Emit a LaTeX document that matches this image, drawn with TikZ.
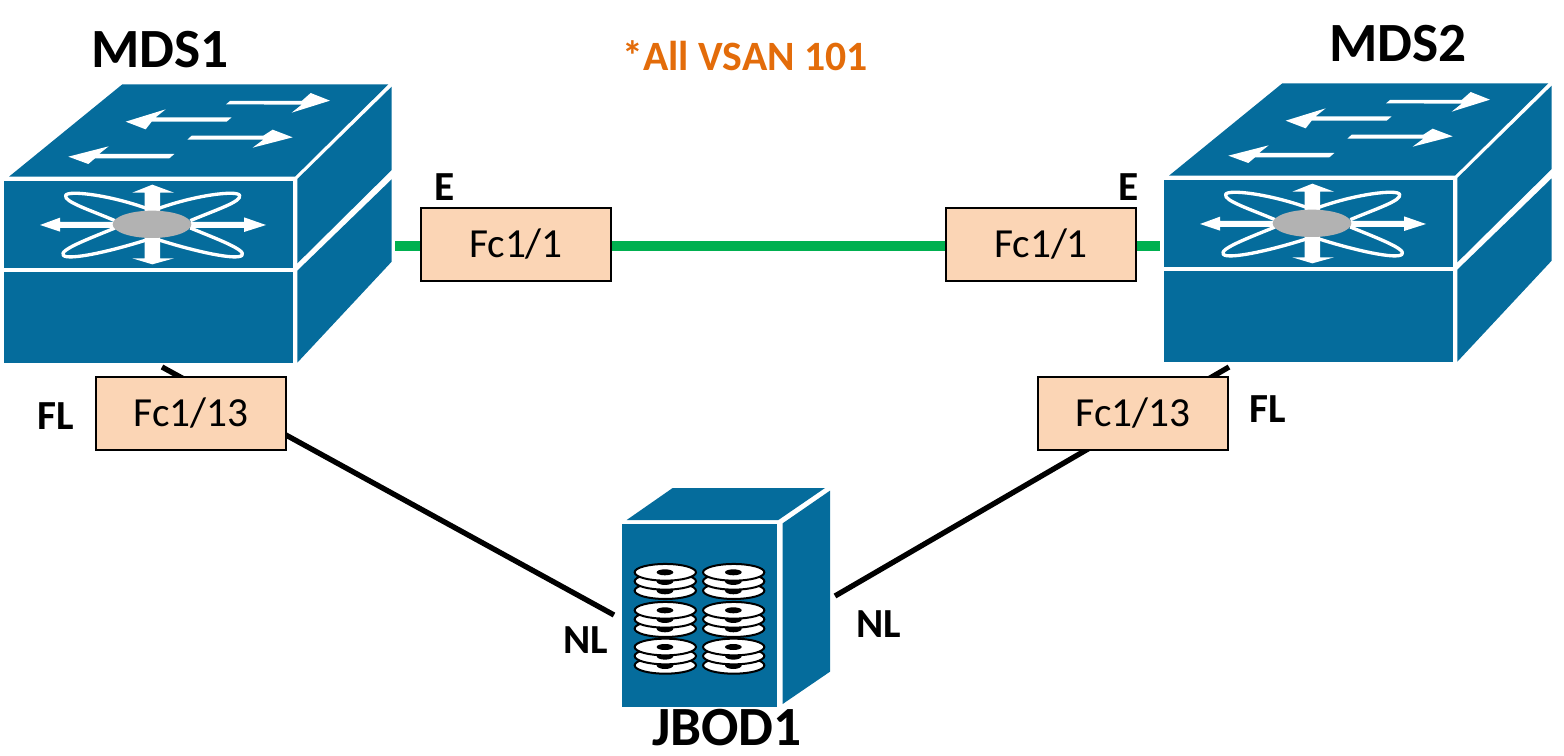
\documentclass[tikz,border=0pt]{standalone}
\usepackage{fontspec}
\usetikzlibrary{backgrounds}
\setmainfont{Carlito}
\definecolor{devblue}{HTML}{056C9C}
\definecolor{portfill}{HTML}{FBD5B5}
\definecolor{linkgreen}{HTML}{00B050}
\definecolor{notecolor}{HTML}{E36C0A}
\definecolor{hubgrey}{HTML}{B2B2B2}
\newcommand{\fpx}[1]{\fontsize{#1}{#1}\selectfont}
\tikzset{
  x=0.75pt, y=-0.75pt,
  panel/.style={fill=devblue, draw=none},
  whiteshape/.style={fill=white, draw=none},
  petal/.style={draw=white, line width=2.5pt, line join=round, fill=none},
  portbox/.style={draw=black, line width=0.9pt, fill=portfill, minimum width=142.5pt, minimum height=54.75pt, inner sep=0pt, font=\fpx{31}},
  title/.style={font=\bfseries\fpx{41.5}, inner sep=0pt},
  tag/.style={font=\bfseries\fpx{31}, inner sep=0pt},
  greenlink/.style={draw=linkgreen, line width=7.2pt},
  blacklink/.style={draw=black, line width=4pt},
  fabric/.pic={
    \begin{scope}[x=0.25pt, y=-0.25pt]
      % chassis faces
      \fill[panel] (367,43) -- (1165,43) -- (885,320) -- (27,320) -- cycle;
      \fill[panel] (12,332) rectangle (880,595);
      \fill[panel] (12,606) rectangle (880,878);
      \fill[panel] (892,327) -- (1175,50) -- (1175,300) -- (892,580) -- cycle;
      \fill[panel] (892,602) -- (1175,328) -- (1175,575) -- (892,878) -- cycle;
      % traffic arrows on the lid
      \fill[whiteshape] (678,103) -- (690,93) -- (905,93) -- (932,69) -- (990,92) -- (875,128) -- (905,104) -- cycle;
      \fill[whiteshape] (377,155) -- (497,118) -- (467,142) -- (695,142) -- (680,155) -- (455,155) -- (437,178) -- cycle;
      \fill[whiteshape] (562,209) -- (575,197) -- (790,197) -- (818,179) -- (878,202) -- (758,233) -- (790,209) -- cycle;
      \fill[whiteshape] (205,260) -- (326,229) -- (297,252) -- (523,252) -- (508,265) -- (285,265) -- (265,282) -- cycle;
      % crossbar petals
      \draw[petal] (345,452) .. controls (270,420) and (190,395) .. (197,376) .. controls (205,360) and (330,375) .. (445,417);
      \draw[petal] (571,452) .. controls (646,420) and (726,395) .. (719,376) .. controls (711,360) and (586,375) .. (471,417);
      \draw[petal] (345,474) .. controls (270,505) and (175,540) .. (190,556) .. controls (205,572) and (330,545) .. (445,508);
      \draw[petal] (571,474) .. controls (646,505) and (741,540) .. (726,556) .. controls (711,572) and (586,545) .. (471,508);
      % crossbar arrows
      \fill[whiteshape] (457,344) -- (522,368) -- (480,368) -- (480,565) -- (522,565) -- (457,583) -- (397,565) -- (434,565) -- (434,368) -- (397,368) -- cycle;
      \fill[whiteshape] (120,465) -- (180,443) -- (180,456) -- (732,456) -- (732,442) -- (798,465) -- (732,486) -- (732,474) -- (180,474) -- (180,485) -- cycle;
      \fill[hubgrey] (456,463) ellipse [x radius=118, y radius=41];
    \end{scope}
  },
  platter/.pic={
    \begin{scope}[x=0.25pt, y=-0.25pt]
      \foreach \yo/\hy in {55/11,27/11,0/9}{
        \fill[white, draw=black, line width=1.5pt] (0,\yo) ellipse [x radius=92, y radius=25];
        \fill[black] (-1,\yo) ellipse [x radius=25, y radius=\hy];
      }
    \end{scope}
  }
}
\begin{document}
\begin{tikzpicture}
  \useasboundingbox (0,0) rectangle (1564,756);

  % switches
  \pic at (0,70) {fabric};
  \pic at (1160,69) {fabric};

  % link end points on the chassis and the enclosure
  \coordinate (swAe) at (395,245.8);
  \coordinate (swBw) at (1160,245.8);
  \coordinate (swAs) at (162,367);
  \coordinate (swBs) at (1229,367);
  \coordinate (jbodW) at (614,615);
  \coordinate (jbodE) at (835,596);

  % ports
  \node[portbox] (p1) at (516,244.5) {Fc1/1};
  \node[portbox] (p2) at (1041,244.5) {Fc1/1};
  \node[portbox] (p3) at (191,413.5) {Fc1/13};
  \node[portbox] (p4) at (1133,413.5) {Fc1/13};

  % links run behind the port boxes
  \begin{pgfonlayer}{background}
    \draw[greenlink] (swAe) -- (swBw);
    \draw[blacklink] (swAs) -- (jbodW);
    \draw[blacklink] (swBs) -- (jbodE);
  \end{pgfonlayer}

  % disk enclosure
  \begin{scope}[shift={(600,480)}, x=0.25pt, y=-0.25pt]
    \fill[panel] (80,120) -- (218,24) -- (675,24) -- (535,120) -- cycle;
    \fill[panel] (66,132) rectangle (531,680);
    \fill[panel] (548,130) -- (690,32) -- (690,575) -- (548,672) -- cycle;
  \end{scope}
  \foreach \cx in {665.3,733.7}
    \foreach \cy in {572.3,610.3,647}
      \pic at (\cx,\cy) {platter};

  % labels
  \node[title] (lA) at (160,50) {MDS1};
  \node[title] (lB) at (1398,44) {MDS2};
  \node[title] (lJ) at (727,727.5) {JBOD1};
  \node[font=\bfseries\fpx{31.3}, text=notecolor, inner sep=0pt] (note) at (745,56) {*All VSAN 101};
  \node[tag] (e1) at (444.5,187) {E};
  \node[tag] (e2) at (1129,187.5) {E};
  \node[tag] (fl1) at (56,416) {FL};
  \node[tag] (fl2) at (1268,409) {FL};
  \node[tag] (nl1) at (586,640) {NL};
  \node[tag] (nl2) at (879,624) {NL};
\end{tikzpicture}
\end{document}
